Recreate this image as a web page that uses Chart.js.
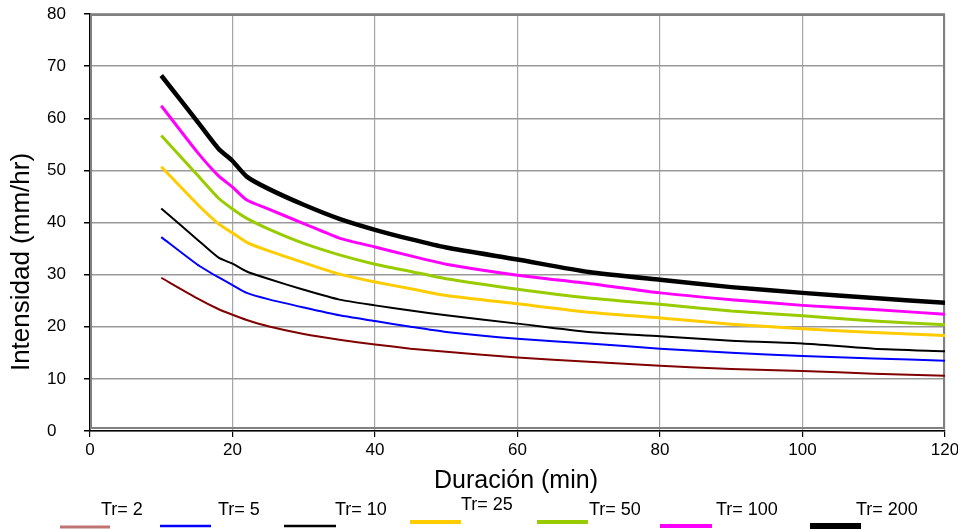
<!DOCTYPE html>
<html>
<head>
<meta charset="utf-8">
<script src="https://cdn.jsdelivr.net/npm/chart.js@4.4.1/dist/chart.umd.min.js"></script>
<style>
  html, body { margin: 0; padding: 0; background: #fff; }
  #wrap { width: 958px; height: 529px; position: relative; }
</style>
</head>
<body>
<div id="wrap"><canvas id="idf"></canvas></div>
<script>
// durations (min)
const durations = [10, 15, 18, 20, 22, 25, 30, 35, 40, 45, 50, 60, 70, 80, 90, 100, 110, 120];

// intensity (mm/hr) per return period
const tr2   = [29.4, 25.5, 23.4, 22.3, 21.3, 20.1, 18.6, 17.5, 16.6, 15.8, 15.2, 14.1, 13.3, 12.5, 11.9, 11.5, 11.0, 10.6];
const tr5   = [37.2, 32.0, 29.5, 28.0, 26.5, 25.3, 23.7, 22.2, 21.1, 20.0, 19.0, 17.7, 16.8, 15.8, 15.0, 14.4, 13.9, 13.5];
const tr10  = [42.7, 36.8, 33.3, 32.1, 30.6, 29.2, 27.1, 25.2, 24.1, 23.1, 22.2, 20.6, 19.0, 18.2, 17.3, 16.8, 15.8, 15.3];
const tr25  = [50.7, 43.6, 39.8, 38.0, 36.2, 34.6, 32.3, 30.1, 28.6, 27.3, 26.0, 24.4, 22.8, 21.7, 20.5, 19.6, 18.9, 18.3];
const tr50  = [56.7, 49.2, 44.7, 42.6, 40.8, 38.8, 36.0, 33.8, 32.0, 30.6, 29.2, 27.2, 25.5, 24.3, 23.0, 22.1, 21.1, 20.4];
const tr100 = [62.4, 53.6, 49.0, 46.8, 44.3, 42.6, 39.8, 37.0, 35.3, 33.6, 32.0, 29.9, 28.3, 26.5, 25.2, 24.1, 23.3, 22.4];
const tr200 = [68.2, 59.5, 54.2, 51.8, 48.8, 46.5, 43.4, 40.7, 38.6, 36.8, 35.2, 32.9, 30.5, 29.0, 27.6, 26.5, 25.5, 24.6];

const seriesLabels = ['Tr= 2', 'Tr= 5', 'Tr= 10', 'Tr= 25', 'Tr= 50', 'Tr= 100', 'Tr= 200'];
const seriesValues = [tr2, tr5, tr10, tr25, tr50, tr100, tr200];
const seriesColors = ['#800000', '#0000ff', '#000000', '#ffcc00', '#99cc00', '#ff00ff', '#000000'];
const seriesWidths = [2, 2, 2, 3, 3, 3, 4.5];

// legend layout: sample line x1, x2, y; text x, y; sample colour/width
const legendLayout = [
    { x1: 60,  x2: 110, ly: 527, tx: 101, ty: 510, color: '#c07373', w: 3 },
    { x1: 160, x2: 211, ly: 526, tx: 218, ty: 510, color: '#0000ff', w: 2.5 },
    { x1: 284, x2: 336, ly: 526, tx: 335, ty: 510, color: '#000000', w: 2.5 },
    { x1: 410, x2: 461, ly: 522, tx: 461, ty: 505, color: '#ffcc00', w: 4 },
    { x1: 537, x2: 588, ly: 522, tx: 589, ty: 510, color: '#99cc00', w: 4 },
    { x1: 660, x2: 712, ly: 526, tx: 716, ty: 510, color: '#ff00ff', w: 4 },
    { x1: 810, x2: 861, ly: 526, tx: 856, ty: 510, color: '#000000', w: 6 }
];

const frameAndTitles = {
    id: 'frameAndTitles',
    beforeDatasetsDraw(chart) {
        const { ctx, chartArea: a } = chart;
        ctx.save();
        ctx.strokeStyle = '#808080';
        ctx.lineWidth = 2;
        ctx.strokeRect(a.left + 1, a.top + 1, a.right - a.left - 2, a.bottom - a.top - 4);
        ctx.restore();
    },
    afterDraw(chart) {
        const { ctx } = chart;
        ctx.save();
        ctx.fillStyle = '#000';
        ctx.textAlign = 'center';
        ctx.textBaseline = 'middle';
        ctx.font = '25px "Liberation Sans", Arial, sans-serif';
        ctx.fillText('Duración (min)', 516, 481);
        ctx.font = '26px "Liberation Sans", Arial, sans-serif';
        ctx.translate(22, 262);
        ctx.rotate(-Math.PI / 2);
        ctx.fillText('Intensidad (mm/hr)', 0, 0);
        ctx.restore();

        ctx.save();
        ctx.font = '18px "Liberation Sans", Arial, sans-serif';
        ctx.textAlign = 'left';
        ctx.textBaseline = 'middle';
        legendLayout.forEach((l, i) => {
            ctx.strokeStyle = l.color;
            ctx.lineWidth = l.w;
            ctx.beginPath();
            ctx.moveTo(l.x1, l.ly);
            ctx.lineTo(l.x2, l.ly);
            ctx.stroke();
            ctx.fillStyle = '#000';
            ctx.fillText(seriesLabels[i], l.tx, l.ty);
        });
        ctx.restore();
    }
};

new Chart(document.getElementById('idf'), {
    type: 'line',
    data: {
        datasets: seriesLabels.map((label, i) => ({
            label: label,
            data: durations.map((d, j) => ({ x: d, y: seriesValues[i][j] })),
            borderColor: seriesColors[i],
            backgroundColor: seriesColors[i],
            borderWidth: seriesWidths[i],
            pointRadius: 0,
            tension: 0.2,
            fill: false
        }))
    },
    options: {
        responsive: true,
        maintainAspectRatio: false,
        animation: false,
        layout: { padding: { left: 47, top: 14, right: 13, bottom: 0 } },
        plugins: {
            legend: { display: false },
            tooltip: { enabled: false }
        },
        scales: {
            x: {
                type: 'linear',
                min: 0,
                max: 120,
                afterFit: (scale) => {
                    scale.height = 98;
                    scale.paddingLeft = 0;
                    scale.paddingRight = 0;
                },
                border: { color: '#000', width: 1.5 },
                grid: { color: '#a6a6a6', lineWidth: 1.2, tickLength: 6, tickColor: '#000' },
                ticks: {
                    stepSize: 20,
                    padding: 3,
                    color: '#000',
                    font: { family: '"Liberation Sans", Arial, sans-serif', size: 17 }
                }
            },
            y: {
                min: 0,
                max: 80,
                afterFit: (scale) => { scale.width = 43; },
                border: { color: '#000', width: 1.5 },
                grid: { color: '#999999', lineWidth: 1.5, tickLength: 6, tickColor: '#000' },
                ticks: {
                    stepSize: 10,
                    crossAlign: 'far',
                    color: '#000',
                    font: { family: '"Liberation Sans", Arial, sans-serif', size: 17 }
                }
            }
        }
    },
    plugins: [frameAndTitles]
});
</script>
</body>
</html>
